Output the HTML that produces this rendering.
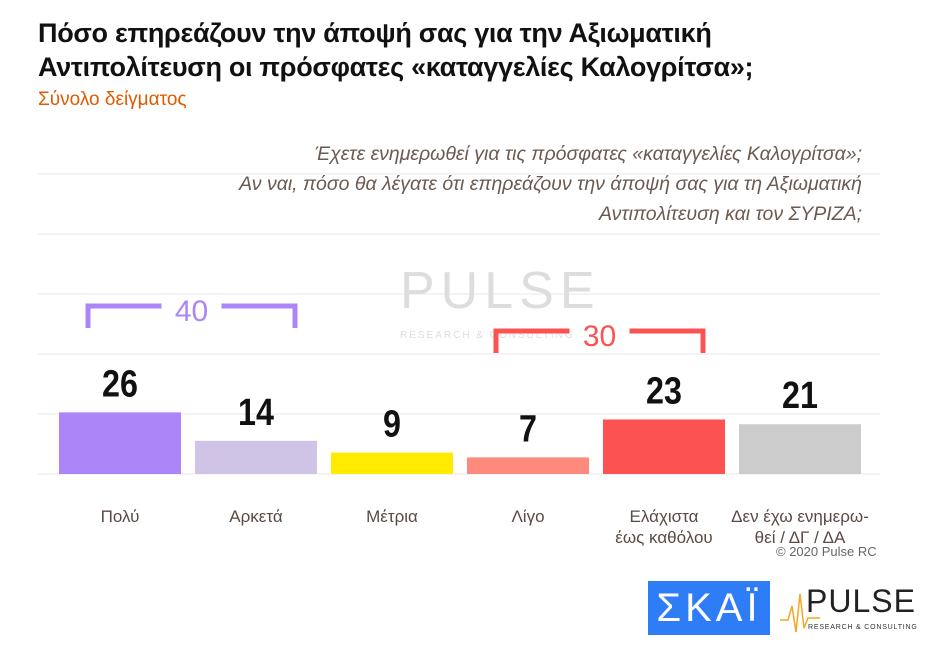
<!DOCTYPE html>
<html><head><meta charset="utf-8"><style>
body{margin:0;width:934px;height:646px;background:#fff;font-family:"Liberation Sans","DejaVu Sans",sans-serif;overflow:hidden;position:relative}
.t{position:absolute;white-space:nowrap}
</style></head><body>
<div class="t" style="left:38px;top:16px;font-size:27px;font-weight:bold;line-height:34px;color:#111;letter-spacing:-0.3px">Πόσο επηρεάζουν την άποψή σας για την Αξιωματική<br>Αντιπολίτευση οι πρόσφατες «καταγγελίες Καλογρίτσα»;</div>
<div class="t" style="left:38px;top:89px;font-size:19px;color:#e05a00">Σύνολο δείγματος</div>
<div class="t" style="right:72px;top:139px;font-size:19.5px;font-style:italic;color:#6b5a50;line-height:30px;text-align:right">Έχετε ενημερωθεί για τις πρόσφατες «καταγγελίες Καλογρίτσα»;<br>Αν ναι, πόσο θα λέγατε ότι επηρεάζουν την άποψή σας για τη Αξιωματική<br>Αντιπολίτευση και τον ΣΥΡΙΖΑ;</div>
<svg id="chart" width="934" height="646" style="position:absolute;left:0;top:0"></svg>
<div class="t" style="left:776px;top:544px;font-size:13px;color:#666">© 2020 Pulse RC</div>
<div style="position:absolute;left:648px;top:581px;width:122px;height:54px;background:#2f7df6;color:#fff;font-size:40px;text-align:center;line-height:54px;letter-spacing:4px">ΣΚΑΪ</div>
<div class="t" style="left:806px;top:584px;font-size:32px;color:#222;letter-spacing:1px;line-height:34px">PULSE</div>
<div class="t" style="left:808px;top:624px;font-size:7px;color:#333;letter-spacing:0.8px">RESEARCH &amp; CONSULTING</div>
<svg width="40" height="50" style="position:absolute;left:780px;top:588px"><polyline points="0,32 8,32 12,18 16,44 20,6 24,40 28,30 40,30" fill="none" stroke="#f5a623" stroke-width="1.5"/></svg>
<script>
const categories=["Πολύ","Αρκετά","Μέτρια","Λίγο","Ελάχιστα|έως καθόλου","Δεν έχω ενημερω-|θεί / ΔΓ / ΔΑ"];
const values=[26,14,9,7,23,21];
const colors=["#ac86f8","#cfc4e6","#ffea00","#fd8a7c","#fd5252","#cccccc"];
const groupLabels=["40","30"];
const svg=document.getElementById('chart');const NS='http://www.w3.org/2000/svg';
const base=474,scale=2.37,x0=59,step=136,bw=122;
const y=v=>base-v*scale, x=i=>x0+i*step;
function mk(t,a){const e=document.createElementNS(NS,t);for(const k in a)e.setAttribute(k,a[k]);svg.appendChild(e);return e;}
for(let g=0;g<6;g++){const l=mk('line',{x1:38,x2:880,y1:base-g*60,y2:base-g*60,stroke:'#e8e8e8','stroke-width':1});

}
const wm=mk('text',{x:400,y:308,'font-size':52,fill:'#ddd','letter-spacing':6});wm.textContent='PULSE';


const wm2=mk('text',{x:400,y:338,'font-size':10,fill:'#ddd','letter-spacing':2});wm2.textContent='RESEARCH & CONSULTING';


values.forEach((v,i)=>{
const r=mk('rect',{x:x(i),y:y(v),width:bw,height:v*scale,fill:colors[i]});


const t=mk('text',{x:x(i)+bw/2,y:y(v)-16,'text-anchor':'middle','font-size':38,'font-weight':'bold',fill:'#111',transform:`translate(${x(i)+bw/2},0) scale(0.85,1) translate(${-(x(i)+bw/2)},0)`});t.textContent=v;


categories[i].split('|').forEach((s,j)=>{const c=mk('text',{x:x(i)+bw/2,y:522+j*21,'text-anchor':'middle','font-size':17,fill:'#5a4a42'});c.textContent=s;

});
});
function bracket(i0,i1,top,col,label){
const a=x(i0)+29,b=x(i1)+bw-22,m=(a+b)/2;
const p=mk('path',{d:`M${a},${top+22}V${top}H${m-30}M${m+30},${top}H${b}V${top+22}`,fill:'none',stroke:col,'stroke-width':5});


const t=mk('text',{x:m,y:top+15,'text-anchor':'middle','font-size':30,fill:col});t.textContent=label;

}
bracket(0,1,306,'#ac86f8',groupLabels[0]);
bracket(3,4,331,'#fd5252',groupLabels[1]);
</script>
</body></html>
